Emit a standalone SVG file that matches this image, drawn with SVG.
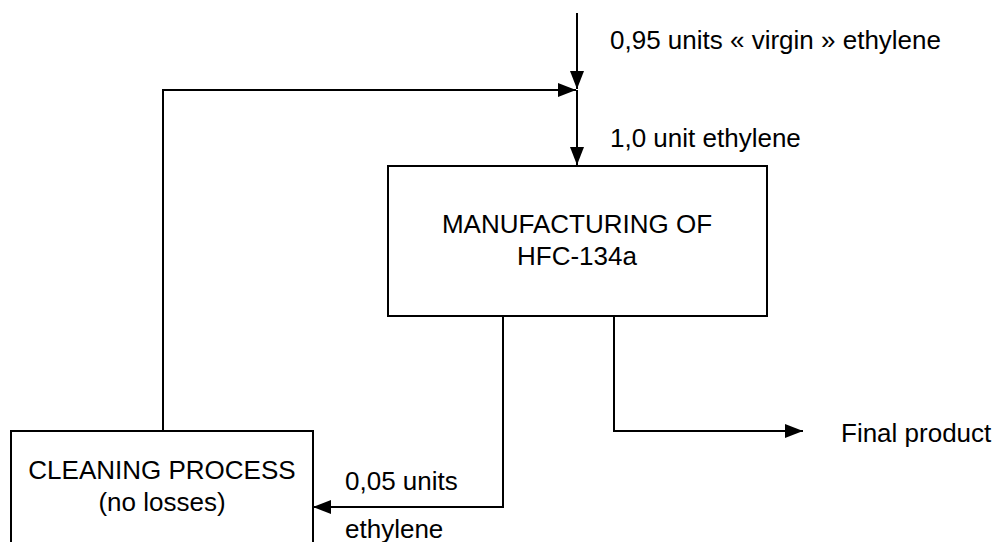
<svg xmlns="http://www.w3.org/2000/svg" width="999" height="542" viewBox="0 0 999 542">
<style>
  .box{fill:#fff;stroke:#000;stroke-width:2}
  .conn{fill:none;stroke:#000;stroke-width:2;marker-end:url(#arr)}
  text{font-family:"Liberation Sans",Arial,sans-serif;font-size:26px;fill:#000}
  .c{text-anchor:middle}
</style>
<defs>
  <marker id="arr" markerUnits="userSpaceOnUse" markerWidth="18" markerHeight="14" refX="18" refY="7" orient="auto">
    <path d="M0,0 L18,7 L0,14 z" fill="#000"/>
  </marker>
</defs>
<rect width="999" height="542" fill="#fff"/>
<g id="connectors">
  <path class="conn" d="M577,13 V89"/>
  <path class="conn" d="M163,431 V90 H576"/>
  <path class="conn" d="M577,90 V165"/>
  <path class="conn" d="M503,316 V507 H313"/>
  <path class="conn" d="M614,316 V431 H803"/>
</g>
<g id="manufacturing">
  <rect class="box" x="388" y="166" width="379" height="150"/>
  <text class="c" x="577" y="233">MANUFACTURING OF</text>
  <text class="c" x="577" y="265">HFC-134a</text>
</g>
<g id="cleaning">
  <rect class="box" x="11" y="431" width="302" height="130"/>
  <text class="c" x="162" y="479">CLEANING PROCESS</text>
  <text class="c" x="162" y="511">(no losses)</text>
</g>
<g id="labels">
  <text x="610" y="49">0,95 units « virgin » ethylene</text>
  <text x="610" y="147">1,0 unit ethylene</text>
  <text x="841" y="442">Final product</text>
  <text x="345" y="490">0,05 units</text>
  <text x="345" y="538">ethylene</text>
</g>
</svg>
